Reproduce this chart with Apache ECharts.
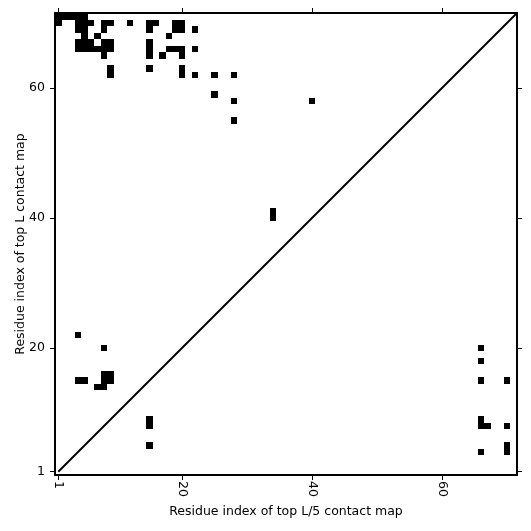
<!DOCTYPE html>
<html>
<head>
<meta charset="utf-8">
<script src="https://cdn.jsdelivr.net/npm/echarts@6/dist/echarts.min.js"></script>
<style>
  html, body { margin: 0; padding: 0; background: #fff; }
  #chart { width: 531px; height: 531px; }
</style>
</head>
<body>
<div id="chart"></div>
<script>
// residue index rows (y) and the columns (x) that are in contact on each row
const contactRows = [71, 70, 69, 68, 67, 66, 65, 63, 62, 59, 58, 55, 41, 40, 22, 20, 18, 16, 15, 14, 9, 8, 5, 4];
const contactCols = [
  [1, 2, 3, 4, 5],
  [1, 4, 5, 6, 8, 9, 12, 15, 16, 19, 20],
  [4, 5, 8, 15, 19, 20, 22],
  [5, 7, 18],
  [4, 5, 6, 8, 9, 15],
  [4, 5, 6, 7, 8, 9, 15, 18, 19, 20, 22],
  [8, 15, 17, 20],
  [9, 15, 20],
  [9, 20, 22, 25, 28],
  [25],
  [28, 40],
  [28],
  [34],
  [34],
  [4],
  [8, 66],
  [66],
  [8, 9],
  [4, 5, 8, 9, 66, 70],
  [7, 8],
  [15, 66],
  [15, 66, 67, 70],
  [15, 70],
  [66, 70]
];
const tickValues = [1, 20, 40, 60];
const diagonal = [[1, 1], [71.5, 71.5]];

const cells = [];
contactRows.forEach((r, i) => {
  contactCols[i].forEach(c => cells.push([c, r]));
});

const chart = echarts.init(document.getElementById('chart'), null, { renderer: 'canvas' });

const font = 'DejaVu Sans';
const baseAxis = {
  type: 'value',
  min: 0.5,
  max: 71.5,
  axisLine: { show: true, onZero: false, lineStyle: { color: '#000', width: 2 } },
  axisTick: { show: true, customValues: tickValues, length: 5, lineStyle: { color: '#000', width: 1 } },
  splitLine: { show: false },
  axisLabel: { show: false }
};

const option = {
  animation: false,
  backgroundColor: '#fff',
  grid: { left: 55, top: 13, width: 462, height: 462 },
  xAxis: [
    {
      ...baseAxis,
      position: 'bottom',
      name: 'Residue index of top L/5 contact map',
      nameLocation: 'middle',
      nameGap: 30,
      nameMoveOverlap: false,
      nameTextStyle: { color: '#000', fontFamily: font, fontSize: 12.5 },
      axisLabel: {
        show: true,
        customValues: tickValues,
        rotate: -90,
        margin: 6,
        color: '#000',
        fontFamily: font,
        fontSize: 12.5
      }
    },
    { ...baseAxis, position: 'top' }
  ],
  yAxis: [
    {
      ...baseAxis,
      position: 'left',
      name: 'Residue index of top L contact map',
      nameLocation: 'middle',
      nameGap: 28,
      nameMoveOverlap: false,
      nameTextStyle: { color: '#000', fontFamily: font, fontSize: 12.5 },
      axisLabel: {
        show: true,
        customValues: tickValues,
        margin: 10,
        color: '#000',
        fontFamily: font,
        fontSize: 12.5
      }
    },
    { ...baseAxis, position: 'right' }
  ],
  series: [
    {
      type: 'custom',
      data: cells,
      renderItem: (params, api) => {
        const p0 = api.coord([api.value(0) - 0.5, api.value(1) + 0.5]);
        const p1 = api.coord([api.value(0) + 0.5, api.value(1) - 0.5]);
        const x0 = Math.round(p0[0]), y0 = Math.round(p0[1]);
        const x1 = Math.round(p1[0]), y1 = Math.round(p1[1]);
        return {
          type: 'rect',
          shape: { x: x0, y: y0, width: x1 - x0, height: y1 - y0 },
          style: { fill: '#000' }
        };
      },
      silent: true
    },
    {
      type: 'line',
      data: diagonal,
      showSymbol: false,
      clip: true,
      lineStyle: { color: '#000', width: 2 },
      silent: true
    }
  ]
};

chart.setOption(option);
</script>
</body>
</html>
